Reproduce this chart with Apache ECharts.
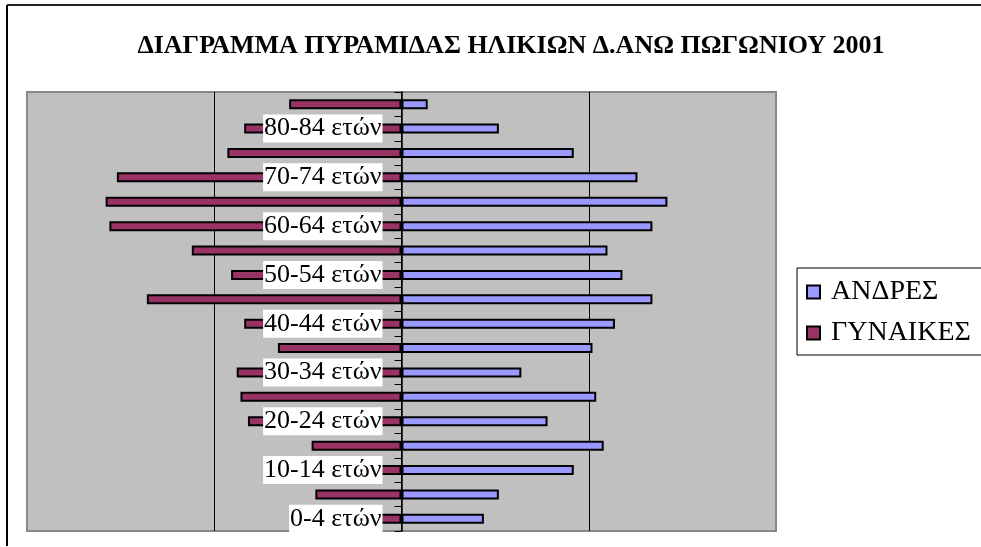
<!DOCTYPE html>
<html>
<head>
<meta charset="utf-8">
<script src="https://cdn.jsdelivr.net/npm/echarts@6/dist/echarts.min.js"></script>
<style>
  html, body { margin: 0; padding: 0; background: #fff; }
  #chart { width: 981px; height: 547px; }
</style>
</head>
<body>
<div id="chart"></div>
<script>
  // age groups, bottom to top
  const ageGroups = [
    '0-4 ετών', '5-9 ετών', '10-14 ετών', '15-19 ετών', '20-24 ετών', '25-29 ετών',
    '30-34 ετών', '35-39 ετών', '40-44 ετών', '45-49 ετών', '50-54 ετών', '55-59 ετών',
    '60-64 ετών', '65-69 ετών', '70-74 ετών', '75-79 ετών', '80-84 ετών', '85+ ετών'
  ];
  const men = [44, 52, 92, 108, 78, 104, 64, 102, 114, 134, 118, 110, 134, 142, 126, 92, 52, 14];
  const women = [38, 46, 56, 48, 82, 86, 88, 66, 84, 136, 91, 112, 156, 158, 152, 93, 84, 60];

  const serif = '"Liberation Serif", "Times New Roman", serif';
  const chart = echarts.init(document.getElementById('chart'));

  chart.setOption({
    animation: false,
    backgroundColor: '#ffffff',
    title: {
      text: 'ΔΙΑΓΡΑΜΜΑ ΠΥΡΑΜΙΔΑΣ ΗΛΙΚΙΩΝ Δ.ΑΝΩ ΠΩΓΩΝΙΟΥ 2001',
      left: 506,
      textAlign: 'center',
      top: 28,
      textStyle: { fontFamily: serif, fontSize: 26, fontWeight: 'bold', color: '#000' }
    },
    legend: {
      orient: 'vertical',
      left: 797,
      top: 268,
      padding: [10, 12, 8, 9],
      itemGap: 13,
      itemWidth: 13,
      itemHeight: 13,
      borderColor: '#000',
      borderWidth: 1,
      icon: 'rect',
      textStyle: { fontFamily: serif, fontSize: 28, color: '#000', padding: [0, 0, 0, 6] },
      data: ['ΑΝΔΡΕΣ', 'ΓΥΝΑΙΚΕΣ']
    },
    graphic: [
      { type: 'line', shape: { x1: 7, y1: 5, x2: 981, y2: 5 }, style: { stroke: '#222', lineWidth: 2 } },
      { type: 'line', shape: { x1: 7, y1: 5, x2: 7, y2: 546 }, style: { stroke: '#000', lineWidth: 2 } }
    ],
    grid: {
      left: 27,
      right: 205,
      top: 92,
      bottom: 16,
      outerBoundsMode: 'none',
      containLabel: false,
      show: true,
      backgroundColor: '#C0C0C0',
      borderColor: '#888',
      borderWidth: 2
    },
    xAxis: {
      type: 'value',
      min: -200,
      max: 200,
      interval: 100,
      axisLabel: { show: false },
      axisLine: { show: false },
      axisTick: { show: false },
      splitLine: { showMinLine: false, showMaxLine: false, lineStyle: { color: '#000', width: 1 } }
    },
    yAxis: {
      type: 'category',
      data: ageGroups,
      position: 'left',
      offset: -374.5,
      z: 5,
      axisLine: { onZero: false, lineStyle: { color: '#000', width: 1.5 } },
      axisTick: { show: true, interval: 0, length: 7, lineStyle: { color: '#000' } },
      axisLabel: {
        interval: 1,
        margin: 19,
        fontFamily: serif,
        fontSize: 26,
        color: '#000',
        backgroundColor: '#fff',
        padding: [1, 1, 1, 1]
      }
    },
    series: [
      {
        name: 'ΑΝΔΡΕΣ',
        type: 'bar',
        data: men,
        barWidth: 10,
        barGap: '-100%',
        itemStyle: { color: '#9999FF', borderColor: '#000', borderWidth: 2 }
      },
      {
        name: 'ΓΥΝΑΙΚΕΣ',
        type: 'bar',
        data: women.map(v => -v),
        barWidth: 10,
        itemStyle: { color: '#993366', borderColor: '#000', borderWidth: 2 }
      }
    ]
  });
</script>
</body>
</html>
